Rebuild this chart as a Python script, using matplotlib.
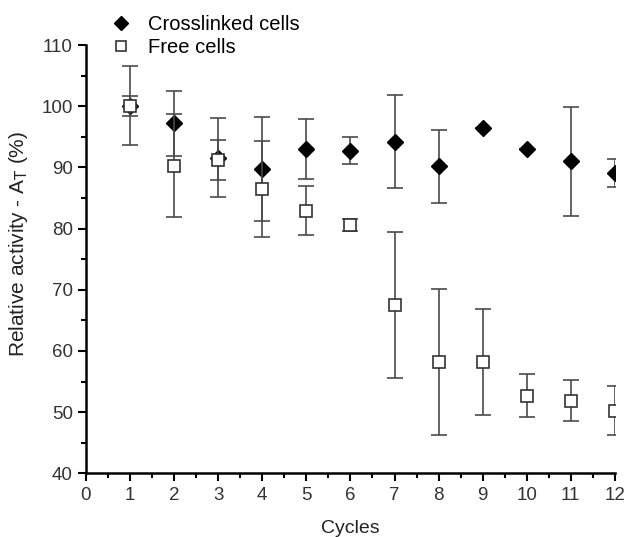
import numpy as np
import matplotlib.pyplot as plt
from matplotlib.ticker import MultipleLocator

plt.rcParams['font.family'] = ['Liberation Sans', 'DejaVu Sans']

cycles = [1, 2, 3, 4, 5, 6, 7, 8, 9, 10, 11, 12]

crosslinked = [100.0, 97.2, 91.6, 89.8, 93.0, 92.7, 94.2, 90.2, 96.4, 93.0, 91.0, 89.1]
crosslinked_err = [1.6, 5.3, 6.5, 8.5, 4.9, 2.2, 7.6, 6.0, 0.0, 0.0, 8.9, 2.3]

free = [100.1, 90.3, 91.2, 86.5, 82.9, 80.6, 67.5, 58.2, 58.2, 52.7, 51.9, 50.2]
free_err = [6.5, 8.45, 3.3, 7.9, 4.0, 1.0, 12.0, 12.0, 8.6, 3.5, 3.3, 4.0]

fig = plt.figure(figsize=(6.3, 5.37), dpi=100)
ax = fig.add_axes([0.1365, 0.1186, 0.8395, 0.7974])

err_color = '#4a4a4a'
ax.errorbar(cycles, crosslinked, yerr=crosslinked_err, fmt='D', color='black',
            markersize=8, ecolor=err_color, elinewidth=1.2, capsize=5.5,
            capthick=1.2, label='Crosslinked cells', zorder=3)
ax.errorbar(cycles, free, yerr=free_err, fmt='s', markerfacecolor='white',
            markeredgecolor='#333333', markeredgewidth=1.2, markersize=8,
            ecolor=err_color, elinewidth=1.2, capsize=5.5, capthick=1.2,
            label='Free cells', zorder=4)

ax.set_xlim(0, 12)
ax.set_ylim(40, 110)
ax.xaxis.set_major_locator(MultipleLocator(1))
ax.xaxis.set_minor_locator(MultipleLocator(0.5))
ax.yaxis.set_major_locator(MultipleLocator(10))
ax.yaxis.set_minor_locator(MultipleLocator(5))

for side in ['top', 'right']:
    ax.spines[side].set_visible(False)
for side in ['left', 'bottom']:
    ax.spines[side].set_linewidth(1.8)

ax.tick_params(which='major', direction='out', length=6, width=1.5,
               labelsize=13.5, labelcolor='#333333')
ax.tick_params(which='minor', direction='out', length=3.5, width=1.5)

ax.set_xlabel('Cycles', fontsize=14, color='#222222', labelpad=12)
ax.set_ylabel(r'Relative activity - A$_\mathrm{T}$ (%)', fontsize=15,
              color='#222222', labelpad=8)
ax.yaxis.set_label_coords(-0.105, 0.535)

handles, labels = ax.get_legend_handles_labels()
handles = [h[0] for h in handles]
fig.legend(handles, labels, loc='upper left', bbox_to_anchor=(0.148, 1.005),
           frameon=False, fontsize=14.5, handletextpad=0.8, labelspacing=0.2,
           handlelength=1.0, markerscale=0.85)

fig.savefig('out.png', dpi=100)
